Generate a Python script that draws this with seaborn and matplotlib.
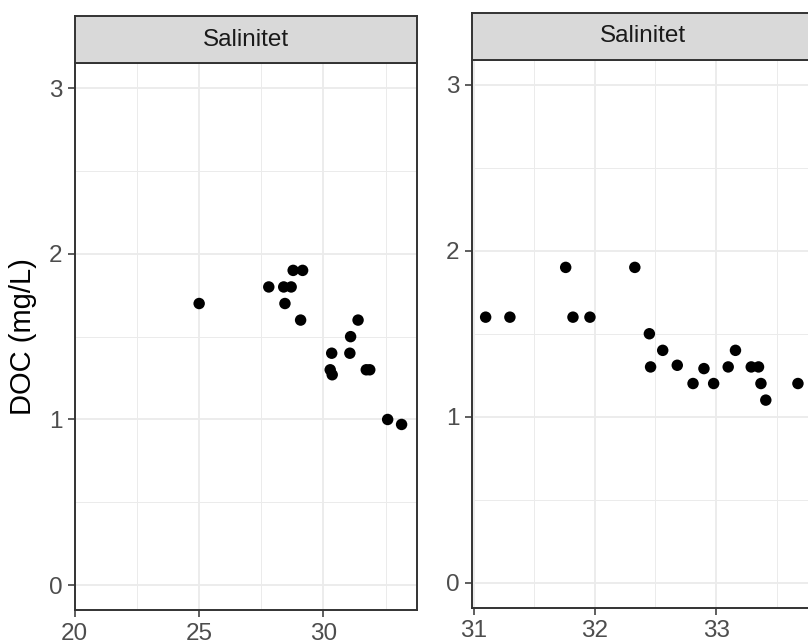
import matplotlib
matplotlib.use("Agg")
import matplotlib.pyplot as plt
import seaborn as sns
import pandas as pd

# Station group A: salinity vs dissolved organic carbon
sal_a = [25.0, 27.8, 28.4, 28.7, 28.78, 29.16, 28.45, 29.08, 31.39, 31.09,
         30.33, 31.06, 30.27, 30.35, 31.72, 31.86, 32.58, 33.14]
doc_a = [1.7, 1.8, 1.8, 1.8, 1.9, 1.9, 1.7, 1.6, 1.6, 1.5,
         1.4, 1.4, 1.3, 1.27, 1.3, 1.3, 1.0, 0.97]

# Station group B
sal_b = [31.10, 31.30, 31.76, 31.82, 31.96, 32.33, 32.45, 32.46, 32.56, 32.68,
         32.81, 32.90, 32.98, 33.10, 33.16, 33.29, 33.35, 33.37, 33.41, 33.675]
doc_b = [1.6, 1.6, 1.9, 1.6, 1.6, 1.9, 1.5, 1.3, 1.4, 1.31,
         1.2, 1.29, 1.2, 1.3, 1.4, 1.3, 1.3, 1.2, 1.1, 1.2]

strip_label = "Salinitet"
y_label = "DOC (mg/L)"
y_ticks = [0, 1, 2, 3]
x_ticks_a = [20, 25, 30]
x_ticks_b = [31, 32, 33]

sns.set_style("white")
plt.rcParams["font.family"] = ["Liberation Sans", "DejaVu Sans"]

W, H = 808, 641
fig = plt.figure(figsize=(W / 100, H / 100), dpi=100)

border = "#333333"
grid_c = "#EBEBEB"
tick_c = "#4D4D4D"
strip_fill = "#D9D9D9"


def px_rect(left, top, right, bottom):
    return [left / W, 1 - bottom / H, (right - left) / W, (bottom - top) / H]


def panel(rect, strip_rect, x, y, xlim, xticks, xminor):
    ax = fig.add_axes(rect)
    df = pd.DataFrame({"x": x, "y": y})
    sns.scatterplot(data=df, x="x", y="y", ax=ax, color="black", s=68,
                    edgecolor="none", zorder=3)
    ax.set_xlim(*xlim)
    ax.set_ylim(-0.15, 3.15)
    ax.set_xticks(xticks)
    ax.set_xticks(xminor, minor=True)
    ax.set_yticks(y_ticks)
    ax.set_yticks([0.5, 1.5, 2.5], minor=True)
    ax.set_xticklabels([str(t) for t in xticks])
    ax.set_yticklabels([str(t) for t in y_ticks])
    ax.grid(which="major", color=grid_c, lw=1.3, zorder=0)
    ax.grid(which="minor", color=grid_c, lw=0.7, zorder=0)
    ax.set_axisbelow(True)
    for s in ax.spines.values():
        s.set_visible(True)
        s.set_color(border)
        s.set_linewidth(1.4)
    ax.tick_params(which="major", length=5, width=1.1, color=border,
                   labelsize=17.5, labelcolor=tick_c, pad=4,
                   bottom=True, left=True)
    ax.tick_params(which="minor", length=0)
    ax.set_xlabel("")
    ax.set_ylabel("")

    sx = fig.add_axes(strip_rect)
    sx.set_facecolor(strip_fill)
    sx.set_xticks([])
    sx.set_yticks([])
    for s in sx.spines.values():
        s.set_color(border)
        s.set_linewidth(1.4)
    sx.text(0.5, 0.5, strip_label, ha="center", va="center",
            fontsize=17.5, color="#1A1A1A", transform=sx.transAxes)
    return ax


ax_a = panel(px_rect(74.8, 63.3, 417.5, 610), px_rect(74.8, 16, 417.5, 63.3),
             sal_a, doc_a, (20, 33.78), x_ticks_a, [22.5, 27.5, 32.5])
ax_b = panel(px_rect(471.7, 60, 813.7, 607.5), px_rect(471.7, 12.7, 813.7, 60),
             sal_b, doc_b, (30.985, 33.805), x_ticks_b, [31.5, 32.5, 33.5])

fig.text(23 / W, 1 - 337 / H, y_label, rotation=90, ha="center", va="center",
         fontsize=21, color="black")

fig.savefig("out.png", dpi=100)
